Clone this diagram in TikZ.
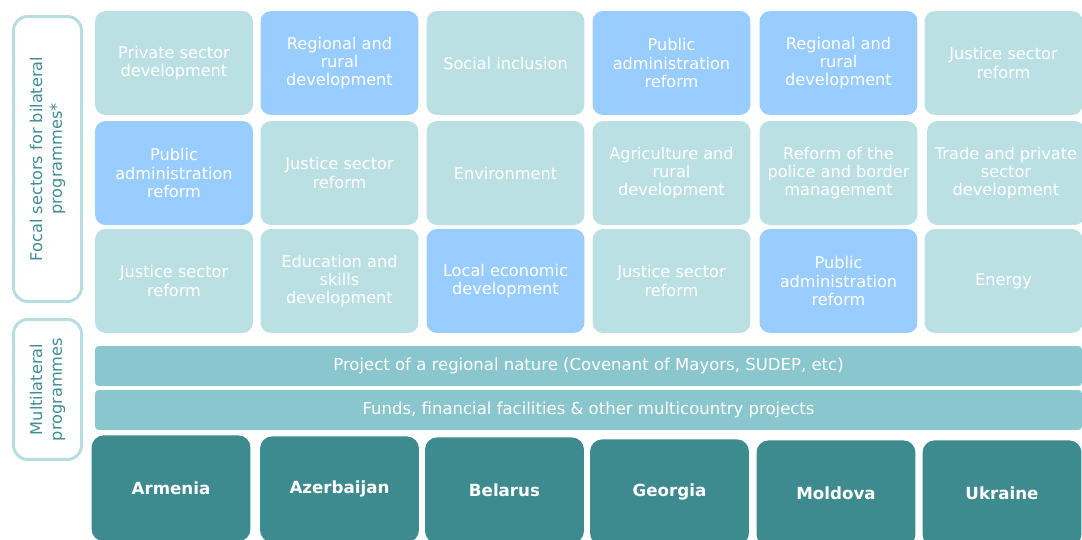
\documentclass[tikz,border=0pt]{standalone}
\usepackage{fontspec}
\setmainfont{DejaVu Sans}
\usetikzlibrary{shapes}

\definecolor{tilelight}{RGB}{187,224,227}
\definecolor{tileblue}{RGB}{153,204,255}
\definecolor{barteal}{RGB}{138,198,205}
\definecolor{darkteal}{RGB}{61,138,143}
\definecolor{sideline}{RGB}{183,221,225}
\definecolor{sidetext}{RGB}{63,142,148}

\begin{document}
\begin{tikzpicture}[x=0.02cm, y=-0.02cm]
      \tikzstyle{sector} = [
        rectangle,
        fill=tilelight,
        text=white,
        align=center,
        minimum width=3.16cm,
        minimum height=2.08cm,
        rounded corners=6pt,
        inner sep=1pt,
        font=\fontsize{9.2}{10.3}\selectfont
      ]

      \tikzstyle{priority} = [
        sector,
        fill=tileblue
      ]

      \tikzstyle{multi} = [
        rectangle,
        fill=barteal,
        text=white,
        minimum width=19.74cm,
        minimum height=0.8cm,
        rounded corners=2pt,
        font=\fontsize{9.4}{10.5}\selectfont
      ]

      \tikzstyle{country} = [
        rectangle,
        fill=darkteal,
        text=white,
        anchor=north,
        minimum width=3.18cm,
        minimum height=2.12cm,
        rounded corners=7pt,
        font=\bfseries\fontsize{9.5}{11}\selectfont
      ]

      \tikzstyle{side} = [
        rectangle,
        draw=sideline,
        line width=1.7pt,
        fill=white,
        text=sidetext,
        rotate=90,
        align=center,
        minimum height=1.36cm,
        rounded corners=8pt,
        font=\fontsize{9.2}{11.3}\selectfont
      ]

      \useasboundingbox (0,0) rectangle (1082,540);
      \clip (0,0) rectangle (1082,540);

      % bilateral focal sectors
      \node[sector] (private1) at (174,63) {Private sector\\development};
      \node[priority] (regional1) at (339.5,63) {Regional and\\rural\\development};
      \node[sector] (inclusion) at (505.5,63) {Social inclusion};
      \node[priority] (public1) at (671.5,63) {Public\\administration\\reform};
      \node[priority] (regional2) at (838.5,63) {Regional and\\rural\\development};
      \node[sector] (justice1) at (1003.5,63) {Justice sector\\reform};

      \node[priority] (public2) at (174,173) {Public\\administration\\reform};
      \node[sector] (justice2) at (339.5,173) {Justice sector\\reform};
      \node[sector] (environment) at (505.5,173) {Environment};
      \node[sector] (agriculture) at (671.5,173) {Agriculture and\\rural\\development};
      \node[sector] (police) at (838.5,173) {Reform of the\\police and border\\management};
      \node[sector] (trade) at (1006,173) {Trade and private\\sector\\development};

      \node[sector] (justice3) at (174,281) {Justice sector\\reform};
      \node[sector] (education) at (339.5,281) {Education and\\skills\\development};
      \node[priority] (local) at (505.5,281) {Local economic\\development};
      \node[sector] (justice4) at (671.5,281) {Justice sector\\reform};
      \node[priority] (public3) at (838.5,281) {Public\\administration\\reform};
      \node[sector] (energy) at (1003.5,281) {Energy};

      % multilateral
      \node[multi] (regionalproj) at (588.5,366) {Project of a regional nature (Covenant of Mayors, SUDEP, etc)};
      \node[multi] (funds) at (588.5,410) {Funds, financial facilities \& other multicountry projects};

      % countries
      \node[country] (armenia) at (171,435) {Armenia};
      \node[country] (azerbaijan) at (339.5,436) {Azerbaijan};
      \node[country] (belarus) at (504.5,437) {Belarus};
      \node[country] (georgia) at (669.5,439) {Georgia};
      \node[country] (moldova) at (836,440) {Moldova};
      \node[country] (ukraine) at (1002,440) {Ukraine};

      % row labels
      \node[side, minimum width=5.7cm] (bilateral) at (47.5,159) {Focal sectors for bilateral\\programmes*};
      \node[side, minimum width=2.8cm] (multilateral) at (47.5,389.5) {Multilateral\\programmes};
    \end{tikzpicture}
\end{document}
